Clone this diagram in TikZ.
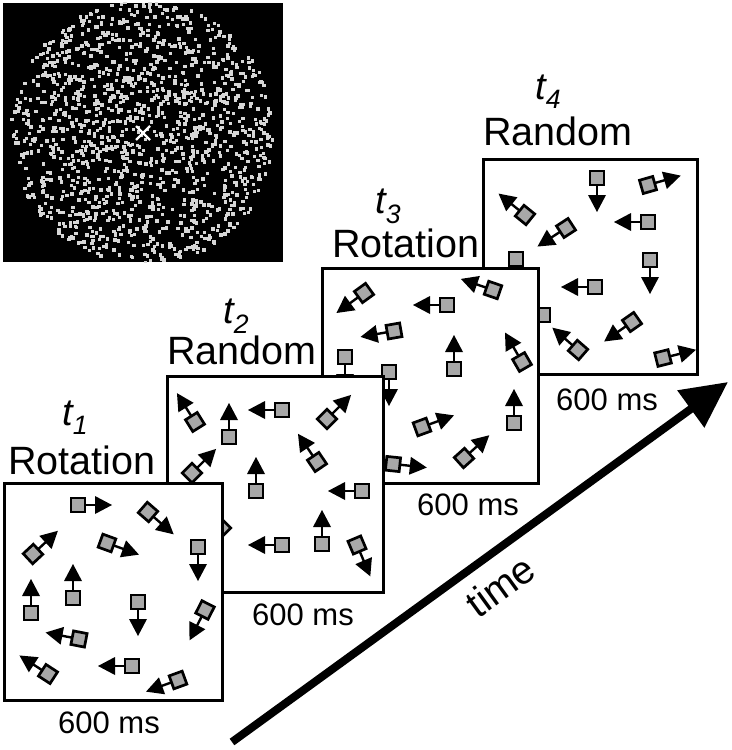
\documentclass[tikz,border=0pt]{standalone}
\usepackage{fontspec}
\setmainfont{Liberation Sans}
\usetikzlibrary{arrows.meta}
\definecolor{sqgray}{HTML}{A8A8A8}
\definecolor{dotgray}{HTML}{D6D6D6}
\newcommand\mvobj[3]{%
 \begin{scope}[shift={(#1,#2)},rotate=#3]
 \draw[line width=2.4bp] (6,0) -- (18,0);
 \fill (17,-9) -- (34,0) -- (17,9) -- cycle;
 \filldraw[fill=sqgray,line width=2.7bp] (-6.9,-6.9) rectangle (6.9,6.9);
 \end{scope}}
\tikzset{
 panel/.style={draw,fill=white,line width=3bp},
 lbl/.style={anchor=base west,inner sep=0pt,font=\fontsize{39.5bp}{47bp}\selectfont},
 tl/.style={anchor=base west,inner sep=0pt,font=\fontsize{38bp}{45bp}\selectfont\itshape},
 ms/.style={anchor=base west,inner sep=0pt,font=\fontsize{31bp}{37bp}\selectfont}
}
\begin{document}
\begin{tikzpicture}[x=1bp,y=-1bp]
\useasboundingbox (0,0) rectangle (732,750);
% random-dot stimulus
\fill[black] (3,3) rectangle (283,262);
\begin{scope}
\clip (3,3) rectangle (283,262);
\pgfmathsetseed{4242}
\foreach \i in {1,...,1350}{
  \pgfmathsetmacro\rr{132*sqrt(rnd)}
  \pgfmathsetmacro\aa{360*rnd}
  \fill[dotgray] ({143+\rr*cos(\aa)-1.7},{133+\rr*sin(\aa)-1.7}) rectangle ++(3.4,3.4);
}
\end{scope}
\draw[white,line width=2.2bp] (136,126) -- (150,140) (136,140) -- (150,126);

% ---- panel 4
\draw[panel] (483,159) rectangle (697,374);
\mvobj{597}{178}{-90}
\mvobj{648}{185}{16}
\mvobj{525}{215}{141}
\mvobj{648}{222}{180}
\mvobj{566}{228}{-147}
\mvobj{516}{259}{-90}
\mvobj{650}{260}{-90}
\mvobj{595}{287}{180}
\mvobj{543}{315}{180}
\mvobj{632}{322}{-145}
\mvobj{578}{350}{139}
\mvobj{663}{358}{14}
\node[tl] (t4) at (535,99) {t\textsubscript{4}};
\node[lbl] (l4) at (483,145) {Random};
\node[ms] (m4) at (556,410) {600 ms};

% ---- panel 3
\draw[panel] (322,268) rectangle (538,483);
\mvobj{364}{293}{-144}
\mvobj{447}{305}{180}
\mvobj{493}{290}{161}
\mvobj{394}{331}{190}
\mvobj{345}{357}{-90}
\mvobj{389}{372}{-90}
\mvobj{454}{369}{90}
\mvobj{522}{362}{120}
\mvobj{422}{427}{20}
\mvobj{514}{423}{90}
\mvobj{464}{458}{42}
\mvobj{393}{464}{-6}
\node[tl] (t3) at (375,213) {t\textsubscript{3}};
\node[lbl] (l3) at (332,257) {Rotation};
\node[ms] (m3) at (417,515) {600 ms};

% ---- panel 2
\draw[panel] (167,376) rectangle (383,592);
\mvobj{195}{422}{122}
\mvobj{229}{437}{90}
\mvobj{282}{410}{180}
\mvobj{327}{419}{45}
\mvobj{192}{473}{45}
\mvobj{256}{491}{90}
\mvobj{317}{462}{124}
\mvobj{362}{491}{180}
\mvobj{282}{545}{180}
\mvobj{322}{544}{90}
\mvobj{357}{545}{-67}
\mvobj{221}{528}{225}
\node[tl] (t2) at (223,323) {t\textsubscript{2}};
\node[lbl] (l2) at (167,364) {Random};
\node[ms] (m2) at (252,625) {600 ms};

% ---- panel 1
\draw[panel] (4,483) rectangle (222,700);
\mvobj{78}{505}{0}
\mvobj{148}{512}{-41}
\mvobj{107}{543}{-20}
\mvobj{198}{547}{-90}
\mvobj{33}{554}{43}
\mvobj{73}{598}{90}
\mvobj{31}{613}{90}
\mvobj{138}{602}{-90}
\mvobj{205}{610}{-117}
\mvobj{79}{639}{169}
\mvobj{132}{666}{180}
\mvobj{48}{674}{147}
\mvobj{178}{680}{200}
\node[tl] (t1) at (62,425) {t\textsubscript{1}};
\node[lbl] (l1) at (8,474) {Rotation};
\node[ms] (m1) at (58,733) {600 ms};

% ---- time arrow
\coordinate (ts) at (232,742);
\coordinate (te) at (728,382);
\draw[line width=8bp,-{Triangle[length=46bp,width=44bp]}] (ts) -- (te);
\node[rotate=36,inner sep=0pt,font=\fontsize{39.5bp}{47bp}\selectfont] (time) at (500,586) {time};
\end{tikzpicture}
\end{document}
